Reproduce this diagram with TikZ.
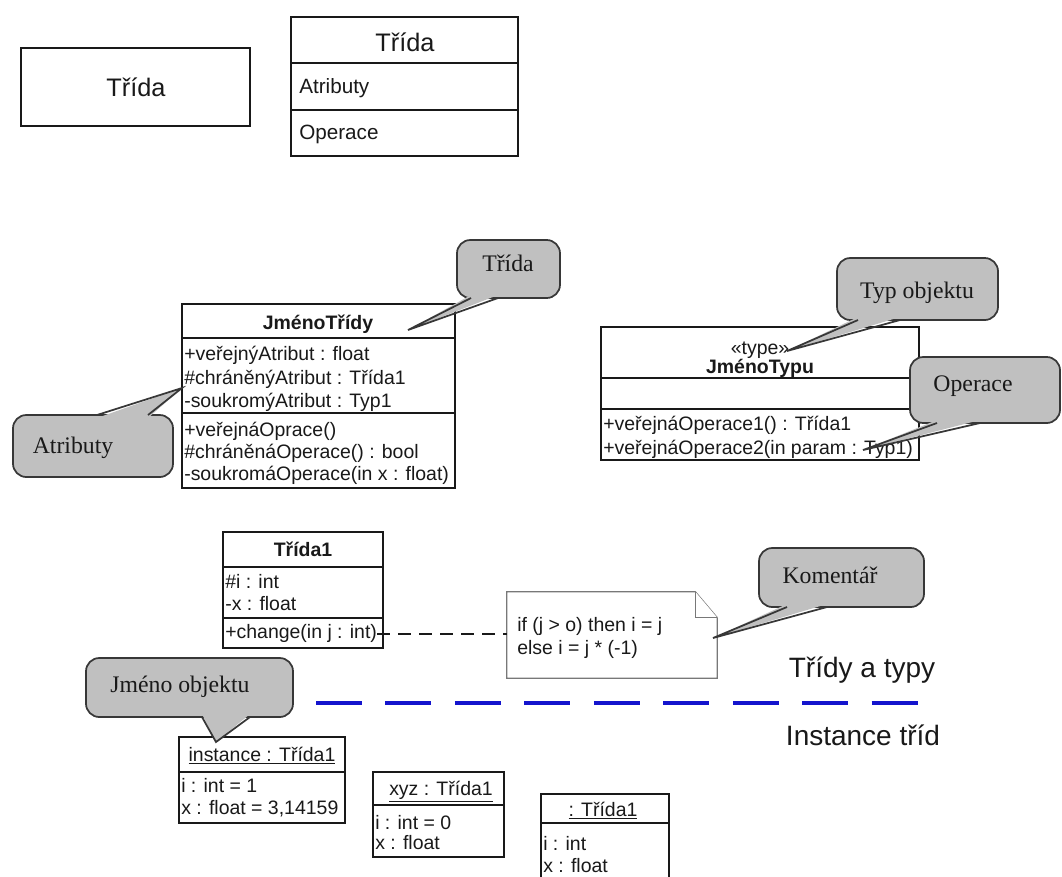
\documentclass[tikz,border=0pt]{standalone}
\usepackage{fontspec}
\usetikzlibrary{fit,calc}
\newfontfamily\lsans{Liberation Sans}
\newfontfamily\lserif{Liberation Serif}
\definecolor{ink}{RGB}{25,25,25}
\definecolor{cgray}{RGB}{192,192,192}
\definecolor{cline}{RGB}{55,55,55}
\definecolor{notecol}{RGB}{120,120,120}
\definecolor{sepblue}{RGB}{20,20,205}
\newcommand\umlf{\lsans\fontsize{14.6}{17}\selectfont}
\newcommand\umlbf{\lsans\bfseries\fontsize{14.6}{17}\selectfont}
\newcommand\callf{\lserif\fontsize{17.8}{20}\selectfont}
\newcommand\bigf{\lsans\fontsize{21}{24}\selectfont}
\newcommand\headf{\lsans\fontsize{19}{22}\selectfont}
\newcommand\smallheadf{\lsans\fontsize{15.5}{18}\selectfont}
\tikzset{
  umlbox/.style={draw=ink, line width=1.5pt, inner sep=0pt, fill=white},
  divider/.style={draw=ink, line width=1.5pt},
  txt/.style={inner sep=0pt, anchor=base west, font=\umlf, text=ink},
  ttl/.style={inner sep=0pt, anchor=base, font=\umlbf, text=ink},
  rtl/.style={inner sep=0pt, anchor=base, font=\umlf, text=ink},
  callout/.style={draw=cline, fill=cgray, line width=1.3pt, rounded corners=10pt, inner sep=0pt},
  ptr/.style={draw=cline, line width=1.3pt},
  ptrfill/.style={fill=cgray},
  calltxt/.style={inner sep=0pt, anchor=base, font=\callf, text=ink},
  notebox/.style={draw=notecol, line width=1pt, fill=white},
  notelink/.style={draw=ink, line width=1.5pt, dash pattern=on 9.75pt off 6pt},
  sepline/.style={draw=sepblue, line width=3pt, dash pattern=on 34.5pt off 17.6pt},
  biglabel/.style={inner sep=0pt, anchor=base, font=\bigf, text=ink}
}
\begin{document}
\begin{tikzpicture}[x=0.75pt, y=-0.75pt]
\useasboundingbox (0,0) rectangle (1062,876);
\fill[white] (0,0) rectangle (1062,876);
\clip (0,0) rectangle (1062,876);

% ---- top: simple class boxes
\node[umlbox, fit={(21,48) (250,126)}] (simple) {};
\node[inner sep=0pt, anchor=base, font=\headf, text=ink] (simpleT) at (136,96) {Třída};

\node[umlbox, fit={(291,17) (518,156)}] (full) {};
\draw[divider] (full.west |- 0,63) -- (full.east |- 0,63);
\draw[divider] (full.west |- 0,110) -- (full.east |- 0,110);
\node[inner sep=0pt, anchor=base, font=\headf, text=ink] (fullT) at (405,51) {Třída};
\node[inner sep=0pt, anchor=base west, font=\smallheadf, text=ink] (fullA) at (299,93.5) {Atributy};
\node[inner sep=0pt, anchor=base west, font=\smallheadf, text=ink] (fullO) at (299,139.5) {Operace};

% ---- JménoTřídy
\node[umlbox, fit={(182,304) (455,488)}] (jt) {};
\draw[divider] (jt.west |- 0,338) -- (jt.east |- 0,338);
\draw[divider] (jt.west |- 0,413) -- (jt.east |- 0,413);
\node[ttl] (jtT) at (318,329) {JménoTřídy};
\node[txt] (jt1) at (184,360) {+veřejnýAtribut : float};
\node[txt] (jt2) at (184,384) {\#chráněnýAtribut : Třída1};
\node[txt] (jt3) at (184,407) {-soukromýAtribut : Typ1};
\node[txt] (jt4) at (184,436) {+veřejnáOprace()};
\node[txt] (jt5) at (184,458) {\#chráněnáOperace() : bool};
\node[txt] (jt6) at (184,480) {-soukromáOperace(in x : float)};

% callout Třída
\node[callout, fit={(457,240) (560,298)}] (cT) {};
\coordinate (cTa) at (471,298); \coordinate (cTb) at (498,298); \coordinate (cTtip) at (408,330);
\fill[ptrfill] ($(cTa)+(0,-3)$) -- (cTtip) -- ($(cTb)+(0,-3)$) -- cycle;
\draw[ptr] (cTa) -- (cTtip) -- (cTb);
\node[calltxt] (cTt) at (508,271) {Třída};

% callout Atributy
\node[callout, fit={(13,415) (173,477)}] (cA) {};
\coordinate (cAa) at (97,415); \coordinate (cAb) at (148,415); \coordinate (cAtip) at (182,388);
\fill[ptrfill] ($(cAa)+(0,3)$) -- (cAtip) -- ($(cAb)+(0,3)$) -- cycle;
\draw[ptr] (cAa) -- (cAtip) -- (cAb);
\node[calltxt] (cAt) at (73,453) {Atributy};

% ---- JménoTypu
\node[umlbox, fit={(601,327) (919,460)}] (ty) {};
\draw[divider] (ty.west |- 0,378) -- (ty.east |- 0,378);
\draw[divider] (ty.west |- 0,409) -- (ty.east |- 0,409);
\node[rtl] (tyS) at (760,354) {«type»};
\node[ttl] (tyT) at (760,373) {JménoTypu};
\node[txt] (ty1) at (603,430) {+veřejnáOperace1() : Třída1};
\node[txt] (ty2) at (603,454) {+veřejnáOperace2(in param : Typ1)};

% callout Typ objektu
\node[callout, fit={(837,258) (998,320)}] (cY) {};
\coordinate (cYa) at (858,320); \coordinate (cYb) at (900,320); \coordinate (cYtip) at (787,351);
\fill[ptrfill] ($(cYa)+(0,-3)$) -- (cYtip) -- ($(cYb)+(0,-3)$) -- cycle;
\draw[ptr] (cYa) -- (cYtip) -- (cYb);
\node[calltxt] (cYt) at (917,298) {Typ objektu};

% callout Operace
\node[callout, fit={(910,357) (1060,423)}] (cO) {};
\coordinate (cOa) at (937,423); \coordinate (cOb) at (980,423); \coordinate (cOtip) at (863,450);
\fill[ptrfill] ($(cOa)+(0,-3)$) -- (cOtip) -- ($(cOb)+(0,-3)$) -- cycle;
\draw[ptr] (cOa) -- (cOtip) -- (cOb);
\node[calltxt] (cOt) at (973,391) {Operace};

% ---- Třída1
\node[umlbox, fit={(223,532) (383,648)}] (t1) {};
\draw[divider] (t1.west |- 0,567) -- (t1.east |- 0,567);
\draw[divider] (t1.west |- 0,618) -- (t1.east |- 0,618);
\node[ttl] (t1T) at (303,556) {Třída1};
\node[txt] (t1a) at (225,588) {\#i : int};
\node[txt] (t1b) at (225,610) {-x : float};
\node[txt] (t1op) at (225,638) {+change(in j : int)};

% note
\node[inner sep=0pt, fit={(507,592) (717,678)}] (note) {};
\draw[notebox] (note.north west) -- ($(note.north east)+(-22,0)$) -- ($(note.north east)+(0,26)$)
  -- (note.south east) -- (note.south west) -- cycle;
\draw[notebox] ($(note.north east)+(-22,0)$) -- ($(note.north east)+(-22,26)$) -- ($(note.north east)+(0,26)$);
\node[txt] (n1) at (517,631) {if (j > o) then i = j};
\node[txt] (n2) at (517,654) {else i = j * (-1)};
\draw[notelink] (t1op.east |- 0,634) -- (note.west |- 0,634);

% callout Komentář
\node[callout, fit={(759,548) (924,607)}] (cK) {};
\coordinate (cKa) at (787,607); \coordinate (cKb) at (827,607); \coordinate (cKtip) at (713,638);
\fill[ptrfill] ($(cKa)+(0,-3)$) -- (cKtip) -- ($(cKb)+(0,-3)$) -- cycle;
\draw[ptr] (cKa) -- (cKtip) -- (cKb);
\node[calltxt] (cKt) at (830,583) {Komentář};

% ---- separator
\node[biglabel] (lblTop) at (862,677) {Třídy a typy};
\node[biglabel] (lblBot) at (863,745) {Instance tříd};
\coordinate (sepL) at (316,703);
\coordinate (sepR) at (918,703);
\draw[sepline] (sepL) -- (sepR);

% ---- instances
\node[umlbox, fit={(179,737) (345,823)}] (inst) {};
\draw[divider] (inst.west |- 0,772) -- (inst.east |- 0,772);
\node[rtl] (instT) at (262,761) {\underline{instance : Třída1}};
\node[txt] (inst1) at (181,792) {i : int = 1};
\node[txt] (inst2) at (181,814) {x : float = 3,14159};

\node[umlbox, fit={(373,772) (504,857)}] (xyz) {};
\draw[divider] (xyz.west |- 0,805) -- (xyz.east |- 0,805);
\node[rtl] (xyzT) at (441,795) {\underline{xyz : Třída1}};
\node[txt] (xyz1) at (375,829) {i : int = 0};
\node[txt] (xyz2) at (375,849) {x : float};

\node[umlbox, fit={(541,794) (669,900)}] (anon) {};
\draw[divider] (anon.west |- 0,823) -- (anon.east |- 0,823);
\node[rtl] (anonT) at (603,816) {\underline{: Třída1}};
\node[txt] (anon1) at (543,850) {i : int};
\node[txt] (anon2) at (543,872) {x : float};

% callout Jméno objektu
\node[callout, fit={(86,658) (293,717)}] (cJ) {};
\coordinate (cJa) at (202,717); \coordinate (cJb) at (250,717); \coordinate (cJtip) at (216,742);
\fill[ptrfill] ($(cJa)+(0,-3)$) -- (cJtip) -- ($(cJb)+(0,-3)$) -- cycle;
\draw[ptr] (cJa) -- (cJtip) -- (cJb);
\node[calltxt] (cJt) at (180,692) {Jméno objektu};
\end{tikzpicture}
\end{document}
